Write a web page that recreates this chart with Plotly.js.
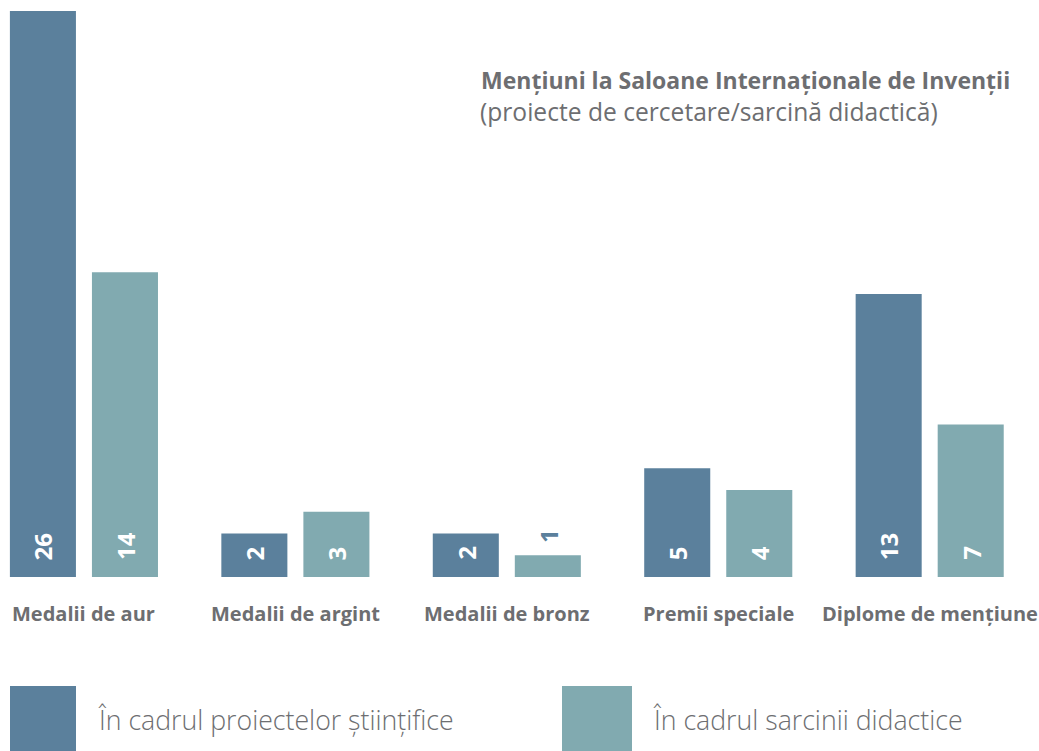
<!DOCTYPE html>
<html>
<head>
<meta charset="utf-8">
<script src="https://cdn.plot.ly/plotly-3.0.1.min.js"></script>
<style>html,body{margin:0;padding:0;background:#fff;}#chart{width:1039px;height:751px;}</style>
</head>
<body>
<div id="chart"></div>
<script>
// ---- data ----
const categories = ["Medalii de aur", "Medalii de argint", "Medalii de bronz", "Premii speciale", "Diplome de mențiune"];
const seriesNames = ["În cadrul proiectelor științifice", "În cadrul sarcinii didactice"];
const proiecteValues = [26, 2, 2, 5, 13];
const didacticValues = [14, 3, 1, 4, 7];
const titleLine1 = "Mențiuni la Saloane Internaționale de Invenții";
const titleLine2 = "(proiecte de cercetare/sarcină didactică)";

// ---- style ----
const colors = ["#5b809c", "#81aab0"];
const textGray = "#6d6e71";
const fontFam = "'Open Sans', 'Noto Sans', sans-serif";
const seriesValues = [proiecteValues, didacticValues];
const barOffsetPx = 41;

const traces = seriesValues.map((vals, i) => ({
  type: "bar",
  x: categories,
  y: vals,
  name: seriesNames[i],
  marker: {color: colors[i]},
  hoverinfo: "skip",
  showlegend: false
}));

const annotations = [];
// value labels
seriesValues.forEach((vals, i) => {
  vals.forEach((v, j) => {
    const inside = v >= 2;
    annotations.push({
      x: categories[j], y: inside ? 0 : v, xref: "x", yref: "y",
      xshift: (i === 0 ? -1 : 1) * barOffsetPx,
      yshift: inside ? 15 : 10,
      text: String(v), showarrow: false, textangle: -90,
      xanchor: "center", yanchor: "bottom",
      font: {family: fontFam, size: 24, weight: 700, color: inside ? "#ffffff" : colors[0]}
    });
  });
});
// category labels
categories.forEach((c) => {
  annotations.push({
    x: c, y: 0, xref: "x", yref: "y", yshift: -36,
    text: "<b>" + c + "</b>", showarrow: false,
    xanchor: "center", yanchor: "middle",
    font: {family: fontFam, size: 20, color: textGray}
  });
});
// title
const plotH = 566;
annotations.push({
  x: 479 / 1039, y: 1 - (80 - 11) / plotH, xref: "paper", yref: "paper",
  text: "<b>" + titleLine1 + "</b>",
  showarrow: false, xanchor: "left", yanchor: "middle", align: "left",
  font: {family: fontFam, size: 23, color: textGray}
});
annotations.push({
  x: 478 / 1039, y: 1 - (112 - 11) / plotH, xref: "paper", yref: "paper",
  text: titleLine2,
  showarrow: false, xanchor: "left", yanchor: "middle", align: "left",
  font: {family: fontFam, size: 24.6, color: textGray}
});
// legend text
const legendX = [96, 651];
seriesNames.forEach((n, i) => {
  annotations.push({
    x: legendX[i] / 1039, y: -(719 - 577) / plotH, xref: "paper", yref: "paper",
    text: n, showarrow: false, xanchor: "left", yanchor: "middle",
    font: {family: fontFam, size: 26.7, weight: 300, color: textGray}
  });
});
const legendSq = [[10, 76], [562, 632]];
const shapes = legendSq.map((s, i) => ({
  type: "rect", xref: "paper", yref: "paper",
  x0: s[0] / 1039, x1: s[1] / 1039,
  y0: -(751 - 577) / plotH, y1: -(686 - 577) / plotH,
  fillcolor: colors[i], line: {width: 0}
}));

const layout = {
  width: 1039, height: 751,
  margin: {l: 0, r: 0, t: 11, b: 174, pad: 0},
  paper_bgcolor: "#ffffff", plot_bgcolor: "#ffffff",
  barmode: "group", bargap: 0.224, bargroupgap: 0.195,
  xaxis: {type: "category", range: [-0.397, 4.517], showticklabels: false, showgrid: false, zeroline: false, showline: false, ticks: "", fixedrange: true},
  yaxis: {range: [0, 26], showticklabels: false, showgrid: false, zeroline: false, showline: false, ticks: "", fixedrange: true},
  showlegend: false,
  annotations: annotations,
  shapes: shapes
};

Plotly.newPlot("chart", traces, layout, {displayModeBar: false, staticPlot: true});
</script>
</body>
</html>
